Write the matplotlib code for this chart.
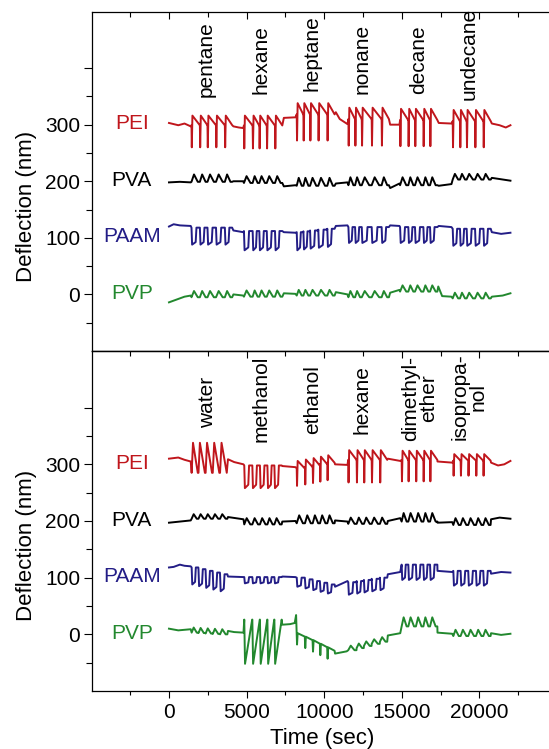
import matplotlib
matplotlib.use('Agg')
import matplotlib.pyplot as plt

plt.rcParams['font.family'] = ['Liberation Sans', 'DejaVu Sans']

polymers = ['PEI', 'PVA', 'PAAM', 'PVP']
colors = ['#c0161c', '#000000', '#231d86', '#22882e']
label_levels = [302, 201, 102, 1]

# ---------------- top panel: alkanes ----------------
top_analytes = ['pentane', 'hexane', 'heptane', 'nonane', 'decane', 'undecane']
top_onsets = [
    [1450, 1990, 2480, 3030, 3600],
    [4830, 5390, 5820, 6300, 6830],
    [8230, 8660, 9090, 9620, 10200],
    [11560, 11990, 12420, 13060, 13700],
    [14890, 15420, 15850, 16390, 16820],
    [18280, 18750, 19180, 19720, 20260],
]

pei_top_bt = [0, 600, 1000, 1400, 4150, 4500, 4780, 7400, 8150, 10750, 11000, 11500,
              14250, 14850, 17380, 18200, 20800, 21300, 21700, 22000]
pei_top_bv = [303, 299, 302, 297, 297, 295, 294, 312, 313, 322, 310, 301,
              300, 300, 303, 302, 302, 299, 295, 299]
pei_top_hi = [316, 316, 338, 330, 328, 326]
pei_top_lo = [260, 258, 272, 263, 262, 260]

pva_top_bt = [0, 700, 1400, 4150, 4780, 7400, 8150, 10750, 11500, 14250, 14850,
              17380, 18200, 20800, 21500, 22000]
pva_top_bv = [198, 199, 198, 200, 200, 191, 193, 196, 198, 188, 196,
              192, 195, 206, 203, 201]
pva_top_hi = [212, 209, 206, 207, 207, 213]
pva_top_lo = [199, 197, 192, 193, 193, 203]

paam_top_bt = [0, 300, 700, 1400, 4150, 4780, 7400, 8150, 10750, 11500, 14250, 14850,
               17380, 18200, 20800, 21400, 22000]
paam_top_bv = [120, 124, 122, 121, 113, 110, 110, 109, 121, 122, 122, 121,
               121, 119, 110, 107, 109]
paam_top_hi = [118, 112, 110, 119, 119, 116]
paam_top_lo = [88, 78, 78, 91, 91, 86]
paam_top_drift = [0, 0, 6, 0, 0, 0]

pvp_top_bt = [0, 500, 1000, 1400, 4150, 4780, 7400, 8150, 10750, 11500, 14250, 14850,
              17350, 17600, 18200, 20800, 21500, 22000]
pvp_top_bv = [-14, -9, -4, -2, 0, -2, 2, 1, 4, 0, 3, 8,
              14, -3, -4, -4, -2, 2]
pvp_top_hi = [6, 7, 8, 6, 16, 3]
pvp_top_lo = [-5, -4, -2, -5, 5, -7]

# ---------------- bottom panel: mixed solvents ----------------
bot_analytes = ['water', 'methanol', 'ethanol', 'hexane', 'dimethyl-\nether', 'isopropa-\nnol']
bot_onsets = [
    [1460, 1900, 2360, 2820, 3290],
    [4850, 5370, 5860, 6340, 6790],
    [8230, 8760, 9260, 9730, 10200],
    [11550, 12090, 12560, 13060, 13590],
    [14990, 15420, 15910, 16390, 16820],
    [18320, 18790, 19280, 19780, 20250],
]

pei_bot_bt = [0, 600, 1000, 1400, 3800, 4200, 4800, 7300, 8150, 10700, 11500, 14100,
              14900, 17300, 18250, 20750, 21200, 21600, 22000]
pei_bot_bv = [310, 312, 308, 305, 309, 304, 300, 297, 295, 300, 299, 310,
              306, 305, 303, 303, 298, 300, 306]
pei_bot_kind = ['sawup', 'dip', 'spike', 'spike', 'spike', 'spike']
pei_bot_hi = [338, 298, 306, 325, 324, 318]
pei_bot_lo = [285, 258, 262, 268, 270, 280]
pei_bot_drift = [0, 0, 10, 0, 0, 0]

pva_bot_bt = [0, 700, 1400, 3800, 4800, 7300, 8150, 10700, 11500, 14100, 14900,
              17300, 18250, 20750, 21300, 22000]
pva_bot_bv = [197, 199, 201, 207, 203, 199, 200, 201, 199, 200, 205,
              197, 198, 203, 206, 204]
pva_bot_hi = [212, 205, 210, 206, 214, 205]
pva_bot_lo = [204, 194, 196, 195, 199, 193]

paam_bot_bt = [0, 300, 700, 1000, 1400, 3800, 4800, 7300, 8150, 10700, 11500, 14100,
               14900, 17300, 18250, 20750, 21400, 22000]
paam_bot_bv = [118, 119, 123, 121, 120, 102, 101, 102, 101, 84, 94, 106,
               110, 112, 110, 107, 110, 109]
paam_bot_hi = [118, 101, 100, 92, 123, 112]
paam_bot_lo = [88, 90, 84, 70, 96, 86]
paam_bot_drift = [-12, 0, -12, 8, 0, 0]

pvp_bot_bt = [0, 600, 1400, 3800, 4200, 4800, 7300, 7800, 8100, 8190, 10700, 11450,
              14100, 14900, 17300, 18250, 20750, 21400, 22000]
pvp_bot_bv = [10, 7, 9, 6, 4, 3, 17, 18, 20, 34, -34, -30,
              -2, 2, 3, 1, 2, -1, 1]
pvp_bot_kind = ['bump', 'vdown', 'spike', 'bump', 'bump', 'bump']
pvp_bot_hi = [12, 26, 2, -20, 30, 8]
pvp_bot_lo = [3, -52, -18, -28, 14, -3]
pvp_bot_drift = [-3, 0, -25, 15, 0, 0]


def pulse(kind, p, h, l):
    if kind == 'spike':
        m = h - 0.3 * (h - l)
        return [(0, m), (20, l), (60, h), (p - 10, m)]
    if kind == 'vdown':
        return [(0, h), (50, l), (p - 10, h)]
    if kind == 'sawup':
        return [(0, l), (0.2 * p, h), (0.9 * p, l)]
    if kind == 'dip':
        return [(0, h), (40, l), (0.5 * p, l + 0.15 * (h - l)), (0.5 * p + 50, h), (p - 10, h)]
    # bump
    return [(0, l), (0.3 * p, h), (0.75 * p, l), (p - 10, l)]


def build(onsets, bt, bv, kinds, hi, lo, drift=None):
    pts = list(zip(bt, bv))
    if isinstance(kinds, str):
        kinds = [kinds] * len(onsets)
    if drift is None:
        drift = [0] * len(onsets)
    for a, times in enumerate(onsets):
        for k, t0 in enumerate(times):
            p = times[k + 1] - t0 if k < len(times) - 1 else 480
            d = drift[a] * k / (len(times) - 1)
            for dt, v in pulse(kinds[a], p, hi[a] + d, lo[a] + d):
                pts.append((t0 + dt, v))
    pts.sort()
    return [q[0] for q in pts], [q[1] for q in pts]


top_traces = [
    build(top_onsets, pei_top_bt, pei_top_bv, 'spike', pei_top_hi, pei_top_lo),
    build(top_onsets, pva_top_bt, pva_top_bv, 'bump', pva_top_hi, pva_top_lo),
    build(top_onsets, paam_top_bt, paam_top_bv, 'dip', paam_top_hi, paam_top_lo, paam_top_drift),
    build(top_onsets, pvp_top_bt, pvp_top_bv, 'bump', pvp_top_hi, pvp_top_lo),
]
bot_traces = [
    build(bot_onsets, pei_bot_bt, pei_bot_bv, pei_bot_kind, pei_bot_hi, pei_bot_lo, pei_bot_drift),
    build(bot_onsets, pva_bot_bt, pva_bot_bv, 'bump', pva_bot_hi, pva_bot_lo),
    build(bot_onsets, paam_bot_bt, paam_bot_bv, 'dip', paam_bot_hi, paam_bot_lo, paam_bot_drift),
    build(bot_onsets, pvp_bot_bt, pvp_bot_bv, pvp_bot_kind, pvp_bot_hi, pvp_bot_lo, pvp_bot_drift),
]

# label placement (data coords: x centre, y of text start)
top_lab_x = [2416, 5908, 9239, 12460, 16063, 19329]
top_lab_y = [349, 355, 359, 355, 355, 343]
bot_lab_x = [2474, 5908, 9258, 12415, 16172, 19350]
bot_lab_y = [365, 339, 353, 353, 341, 343]

fig = plt.figure(figsize=(5.49, 7.49), dpi=100)
W, H = 549.0, 749.0
ax_top = fig.add_axes([92 / W, 1 - 351 / H, 461 / W, 339.5 / H])
ax_bot = fig.add_axes([92 / W, 1 - 691 / H, 461 / W, 340 / H])

for ax, traces, names, lx, ly in [(ax_top, top_traces, top_analytes, top_lab_x, top_lab_y),
                                  (ax_bot, bot_traces, bot_analytes, bot_lab_x, bot_lab_y)]:
    for (t, v), c in zip(traces, colors):
        ax.plot(t, v, color=c, lw=1.4)
    for name, c, lev in zip(polymers, colors, label_levels):
        ax.text(-2400, lev, name, color=c, fontsize=15, ha='center', va='center')
    for name, x, y in zip(names, lx, ly):
        ax.text(x, y, name, rotation=90, fontsize=15, ha='center', va='bottom',
                family=['Liberation Sans Narrow', 'Liberation Sans'],
                multialignment='center', linespacing=0.95)
    ax.set_xlim(-4960, 24742)
    ax.set_ylim(-100, 500)
    ax.set_yticks([0, 100, 200, 300, 400])
    ax.set_yticklabels(['0', '100', '200', '300', ''])
    ax.set_yticks([-50, 50, 150, 250, 350], minor=True)
    ax.set_xticks([0, 5000, 10000, 15000, 20000])
    ax.set_xticks([-2500, 2500, 7500, 12500, 17500, 22500], minor=True)
    ax.tick_params(axis='y', which='major', length=6, width=0.8, pad=2.5, labelsize=15)
    ax.tick_params(axis='y', which='minor', length=4, width=0.8)
    ax.set_ylabel('Deflection (nm)', fontsize=16)
    ax.yaxis.set_label_coords(-0.12, 0.427)
    for s in ax.spines.values():
        s.set_linewidth(0.9)

ax_top.tick_params(axis='x', which='both', top=True, bottom=False, labelbottom=False,
                   direction='in', width=0.8)
ax_top.tick_params(axis='x', which='major', length=5)
ax_top.tick_params(axis='x', which='minor', length=3.5)

ax_bot.tick_params(axis='x', which='major', length=5, width=0.8, pad=4, labelsize=15)
ax_bot.tick_params(axis='x', which='minor', length=3, width=0.8)
sec = ax_bot.secondary_xaxis('top')
sec.set_xticks([0, 5000, 10000, 15000, 20000])
sec.set_xticks([-2500, 2500, 7500, 12500, 17500, 22500], minor=True)
sec.tick_params(axis='x', which='both', direction='in', labeltop=False, width=0.8)
sec.tick_params(axis='x', which='major', length=5)
sec.tick_params(axis='x', which='minor', length=3.5)
sec.spines['top'].set_linewidth(0.9)
ax_bot.set_xlabel('Time (sec)', fontsize=16, labelpad=4)

fig.savefig('out.png', dpi=100)
